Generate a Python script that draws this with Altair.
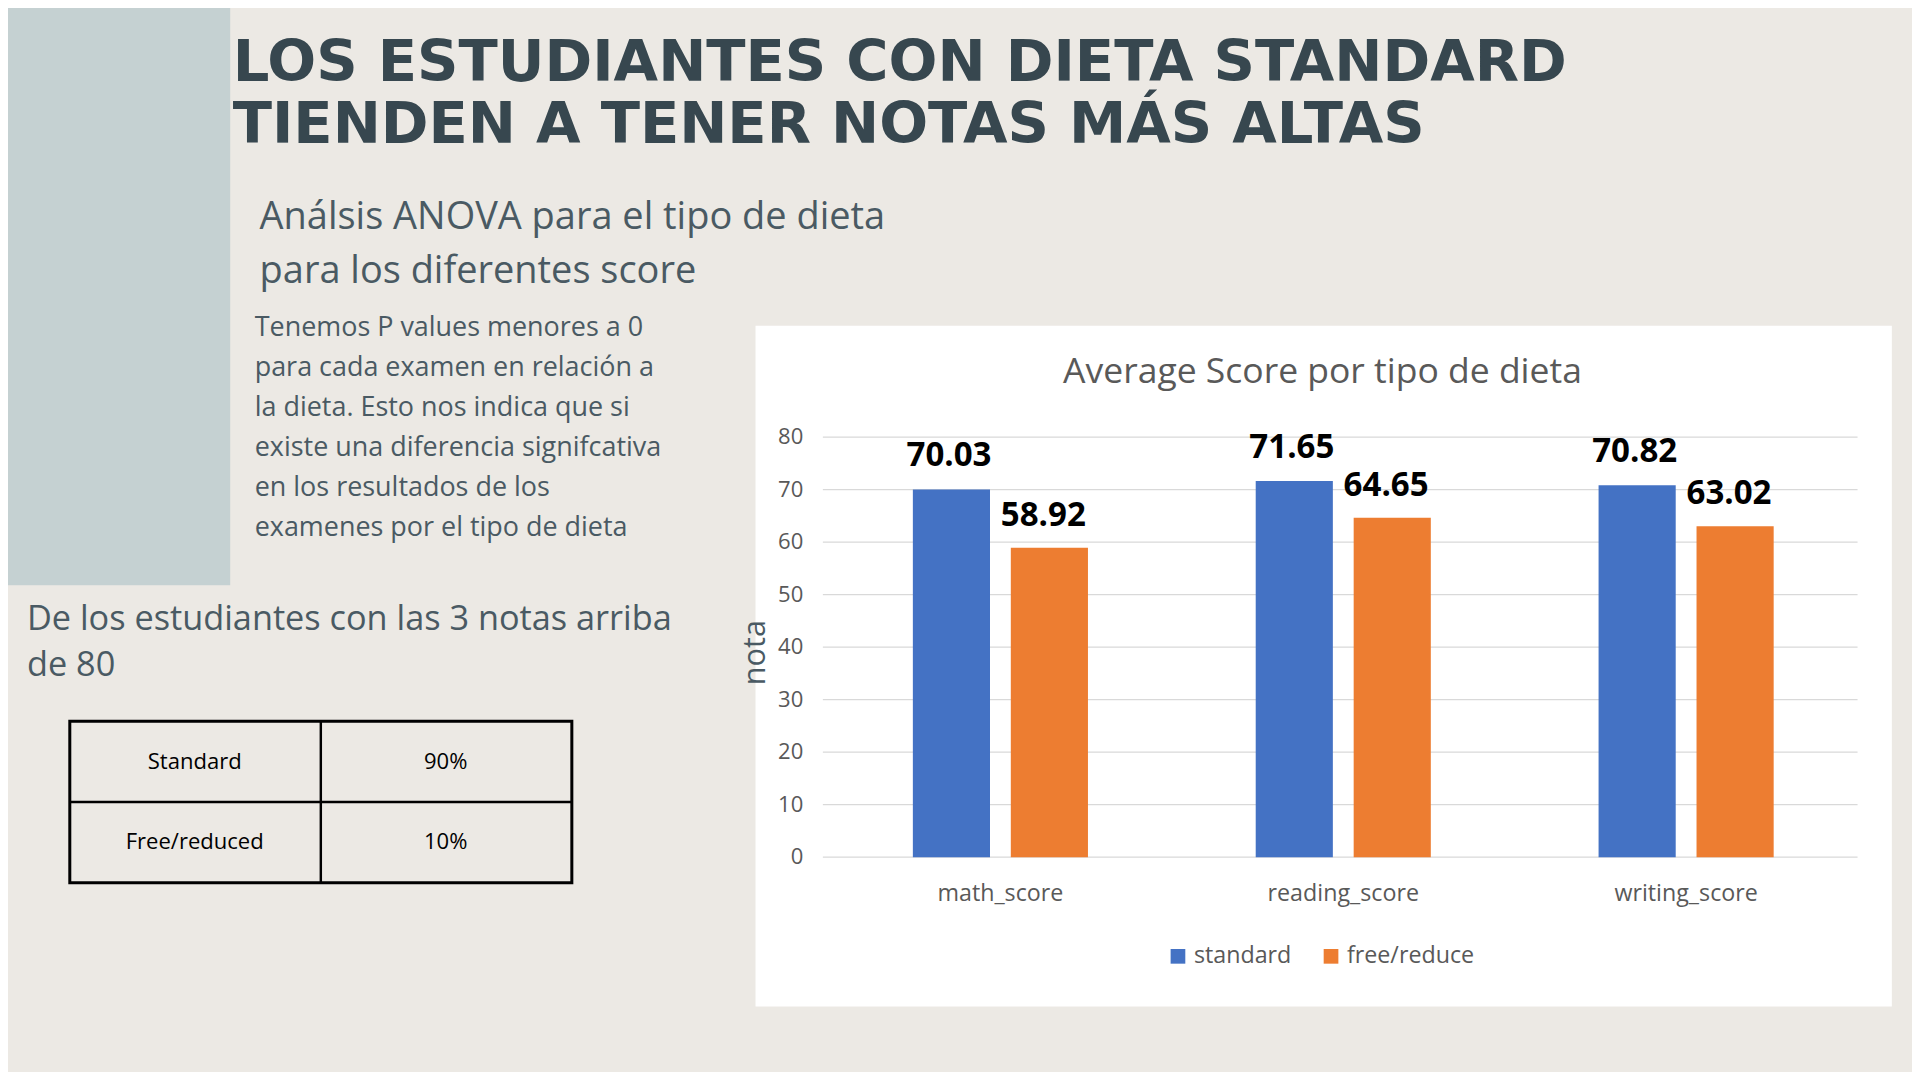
import altair as alt
import pandas as pd

categories = ["math_score", "reading_score", "writing_score"]
standard = [70.03, 71.65, 70.82]
free_reduce = [58.92, 64.65, 63.02]
y_ticks = [0, 10, 20, 30, 40, 50, 60, 70, 80]
table_rows = ["Standard", "Free/reduced"]
table_pct = ["90%", "10%"]

S = 1920 / 1568


def P(v):
    # reference layout units -> page pixels inside the 8px margin
    return v * S - 8


BG = "#ece9e4"
DARK = "#37474f"
MID = "#4a5a63"
GREY = "#595959"
BLUE = "#4472c4"
ORANGE = "#ed7d31"

df = pd.DataFrame({"cat": categories, "standard": standard, "free": free_reduce})
ticks = pd.DataFrame({"v": y_ticks})

xs = alt.Scale(domain=categories, range=[P(677), P(1517)], paddingInner=0, paddingOuter=0)
ys = alt.Scale(domain=[0, 80], range=[P(700), P(357)])
X = alt.X("cat:N", scale=xs, axis=None)


def box(x1, y1, x2, y2, **kw):
    return alt.Chart(pd.DataFrame({"a": [0]})).mark_rect(**kw).encode(
        x=alt.value(P(x1)), x2=alt.value(P(x2)), y=alt.value(P(y1)), y2=alt.value(P(y2)))


def txt(lines, x, y0, dy, size, color, align="left", weight="normal", font="Open Sans", angle=0):
    d = pd.DataFrame({"t": lines, "i": range(len(lines))})
    return alt.Chart(d).mark_text(
        align=align, baseline="middle", fontSize=size * S, color=color,
        fontWeight=weight, font=font, angle=angle
    ).encode(x=alt.value(P(x)), y=alt.value(P(y0)) if dy == 0 else alt.Y("i:O", scale=alt.Scale(range=[P(y0), P(y0 + dy * (len(lines) - 1))]), axis=None),
             text="t:N")


layers = [
    box(-20, -20, 188, 478, color="#c5d1d2"),
    txt(["LOS ESTUDIANTES CON DIETA STANDARD"], 190, 52, 0, 47, DARK, weight=900, font="DejaVu Sans"),
    txt(["TIENDEN A TENER NOTAS MÁS ALTAS"], 190, 103, 0, 47, DARK, weight=900, font="DejaVu Sans"),
    txt(["Análsis ANOVA para el tipo de dieta"], 212, 178, 0, 31, MID),
    txt(["para los diferentes score"], 212, 222, 0, 31, MID),
]
para = ["Tenemos P values menores a 0", "para cada examen en relación a",
        "la dieta. Esto nos indica que si", "existe una diferencia signifcativa",
        "en los resultados de los", "examenes por el tipo de dieta"]
for i, line in enumerate(para):
    layers.append(txt([line], 208, 268 + i * 32.6, 0, 22, MID))
layers += [
    txt(["De los estudiantes con las 3 notas arriba"], 22, 506, 0, 28, MID),
    txt(["de 80"], 22, 544, 0, 28, MID),
    box(57, 589, 467, 721, fill=BG, stroke="black", strokeWidth=3),
    box(261, 589, 263, 721, color="black"),
    box(57, 654, 467, 656, color="black"),
]
for i in range(2):
    layers.append(txt([table_rows[i]], 159, 622 + i * 66, 0, 18, "black", align="center"))
    layers.append(txt([table_pct[i]], 364, 622 + i * 66, 0, 18, "black", align="center"))

# chart box
layers += [
    box(617, 266, 1545, 822, color="white"),
    txt(["Average Score por tipo de dieta"], 1080, 304, 0, 29, GREY, align="center"),
    alt.Chart(ticks).mark_rule(color="#d9d9d9", strokeWidth=1.2).encode(
        y=alt.Y("v:Q", scale=ys, axis=None), x=alt.value(P(672)), x2=alt.value(P(1517))),
    alt.Chart(ticks).mark_text(align="right", fontSize=18 * S, color=GREY, font="Open Sans").encode(
        y=alt.Y("v:Q", scale=ys, axis=None), x=alt.value(P(656)), text="v:Q"),
    txt(["nota"], 617, 533, 0, 25, MID, align="center", angle=270),
    alt.Chart(df).mark_bar(color=BLUE, width=63 * S, xOffset=-40 * S).encode(
        x=X, y=alt.Y("standard:Q", scale=ys, axis=None), y2=alt.datum(0)),
    alt.Chart(df).mark_bar(color=ORANGE, width=63 * S, xOffset=40 * S).encode(
        x=X, y=alt.Y("free:Q", scale=ys, axis=None), y2=alt.datum(0)),
    alt.Chart(df).mark_text(fontSize=27 * S, fontWeight="bold", color="black", xOffset=-42 * S,
                            dy=-27 * S, font="Open Sans").encode(
        x=X, y=alt.Y("standard:Q", scale=ys, axis=None), text=alt.Text("standard:Q", format=".2f")),
    alt.Chart(df).mark_text(fontSize=27 * S, fontWeight="bold", color="black", xOffset=35 * S,
                            dy=-26 * S, font="Open Sans").encode(
        x=X, y=alt.Y("free:Q", scale=ys, axis=None), text=alt.Text("free:Q", format=".2f")),
    alt.Chart(df).mark_text(fontSize=19 * S, color=GREY, font="Open Sans").encode(
        x=X, y=alt.value(P(730)), text="cat:N"),
    box(956, 775, 968, 787, color=BLUE),
    box(1081, 775, 1093, 787, color=ORANGE),
    txt(["standard"], 975, 781, 0, 19, GREY),
    txt(["free/reduce"], 1100, 781, 0, 19, GREY),
]

chart = alt.layer(*layers).properties(
    width=1904, height=1064, background=BG, padding=0,
    autosize=alt.AutoSizeParams(type="none"),
).configure_view(stroke=None)

chart.save("out.html", embed_options={"renderer": "svg", "actions": False})
